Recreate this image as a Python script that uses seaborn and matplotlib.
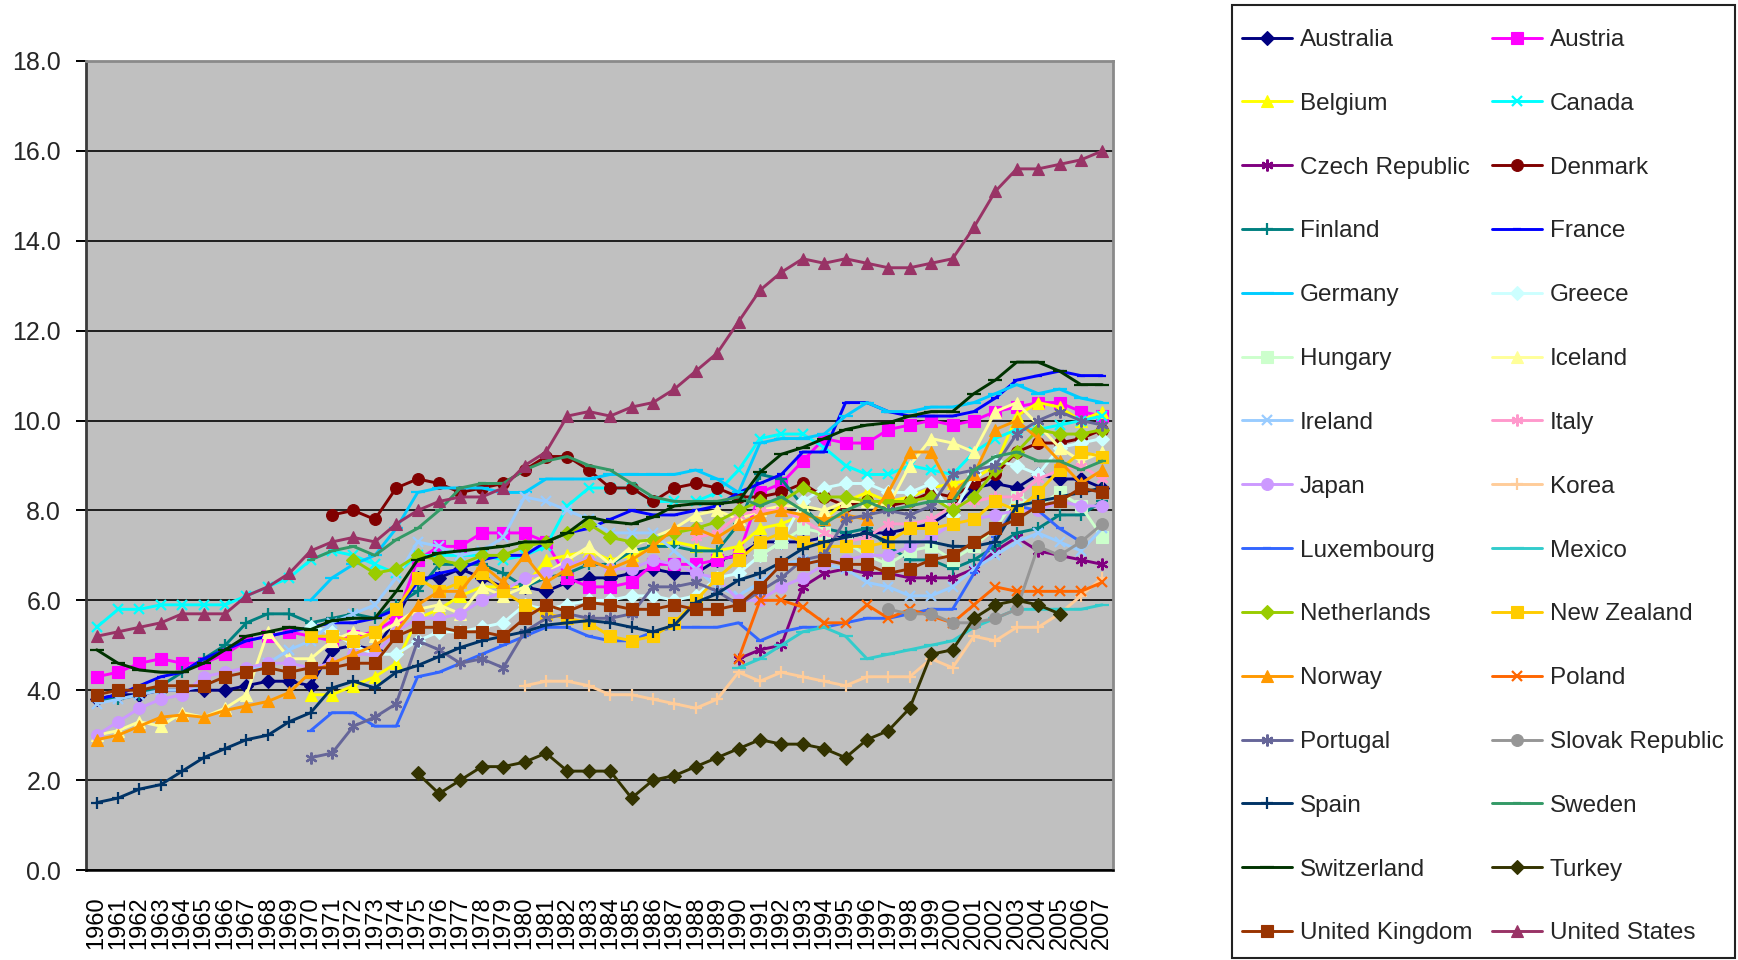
import numpy as np
import pandas as pd
import matplotlib
matplotlib.use("Agg")
import matplotlib.pyplot as plt
from matplotlib.patches import Rectangle
import seaborn as sns

sns.set_theme(style="white")
plt.rcParams["font.family"] = ["Liberation Sans", "DejaVu Sans"]

years = list(range(1960, 2008))
NaN = np.nan


def pad(start, vals):
    return [NaN] * (start - 1960) + list(vals) + [NaN] * (2008 - start - len(vals))


australia = pad(1960, [3.8, 3.9, 3.9, 4.0, 4.0, 4.0, 4.0, 4.1, 4.2, 4.2,
                       4.1, 4.9, 5.0, 4.9, 5.6, 6.5, 6.5, 6.7, 6.5, 6.3,
                       6.3, 6.2, 6.4, 6.5, 6.5, 6.6, 6.7, 6.6, 6.6, 6.9,
                       7.0, 7.3, 7.3, 7.3, 7.4, 7.4, 7.5, 7.5, 7.6, 7.7,
                       8.0, 8.5, 8.6, 8.5, 8.8, 8.7, 8.7, 8.5])
austria = pad(1960, [4.3, 4.4, 4.6, 4.7, 4.6, 4.6, 4.8, 5.1, 5.2, 5.3,
                     5.2, 5.1, 5.2, 5.3, 5.6, 6.9, 7.2, 7.2, 7.5, 7.5,
                     7.5, 7.3, 6.5, 6.3, 6.3, 6.4, 6.8, 6.8, 6.8, 6.9,
                     7.0, 8.4, 8.6, 9.1, 9.6, 9.5, 9.5, 9.8, 9.9, 10.0,
                     9.9, 10.0, 10.2, 10.3, 10.4, 10.4, 10.2, 10.1])
belgium = pad(1970, [3.9, 3.9, 4.1, 4.3, 4.6, 5.6, 5.8, 6.1, 6.3, 6.3,
                     6.3, 6.9, 7.0, 7.1, 6.9, 7.0, 7.2, 7.3, 7.2, 7.1,
                     7.2, 7.6, 7.7, 7.9, 7.8, 8.2, 8.4, 8.2, 8.3, 8.5,
                     8.6, 8.7, 9.0, 10.1, 10.4, 10.3, 10.0, 10.2])
canada = pad(1960, [5.4, 5.8, 5.8, 5.9, 5.9, 5.9, 5.9, 6.1, 6.3, 6.5,
                    6.9, 7.1, 7.0, 6.8, 6.6, 7.0, 7.0, 7.0, 7.0, 6.9,
                    7.0, 7.2, 8.1, 8.5, 8.5, 8.5, 8.2, 8.2, 8.2, 8.4,
                    8.9, 9.6, 9.7, 9.7, 9.4, 9.0, 8.8, 8.8, 9.0, 8.9,
                    8.8, 9.3, 9.6, 9.8, 9.8, 9.9, 10.0, 10.1])
czech = pad(1990, [4.7, 4.9, 5.0, 6.3, 6.6, 6.7, 6.6, 6.6, 6.5, 6.5,
                   6.5, 6.7, 7.1, 7.4, 7.1, 7.0, 6.9, 6.8])
denmark = pad(1971, [7.9, 8.0, 7.8, 8.5, 8.7, 8.6, 8.4, 8.5, 8.6,
                     8.9, 9.2, 9.2, 8.9, 8.5, 8.5, 8.2, 8.5, 8.6, 8.5,
                     8.3, 8.3, 8.4, 8.6, 8.3, 8.1, 8.2, 8.1, 8.2, 8.4,
                     8.3, 8.6, 8.8, 9.3, 9.5, 9.5, 9.6, 9.8])
finland = pad(1960, [3.8, 3.8, 3.9, 4.1, 4.4, 4.7, 5.0, 5.5, 5.7, 5.7,
                     5.5, 5.6, 5.7, 5.6, 5.9, 6.2, 6.8, 6.8, 6.8, 6.6,
                     6.3, 6.5, 6.6, 6.8, 6.8, 7.1, 7.2, 7.2, 7.1, 7.1,
                     7.7, 8.8, 8.7, 8.1, 7.6, 7.5, 7.6, 7.2, 6.9, 6.9,
                     6.7, 6.9, 7.2, 7.5, 7.6, 7.9, 7.9, 8.2])
france = pad(1960, [3.8, 3.9, 4.1, 4.3, 4.4, 4.7, 4.9, 5.1, 5.2, 5.3,
                    5.4, 5.5, 5.5, 5.6, 5.8, 6.4, 6.6, 6.7, 6.9, 7.0,
                    7.0, 7.3, 7.5, 7.6, 7.8, 8.0, 7.9, 7.9, 8.0, 8.1,
                    8.4, 8.6, 8.8, 9.3, 9.3, 10.4, 10.4, 10.2, 10.1, 10.1,
                    10.1, 10.2, 10.5, 10.9, 11.0, 11.1, 11.0, 11.0])
germany = pad(1970, [6.0, 6.5, 6.8, 7.0, 7.6, 8.4, 8.5, 8.5, 8.5, 8.4,
                     8.4, 8.7, 8.7, 8.7, 8.8, 8.8, 8.8, 8.8, 8.9, 8.7,
                     8.4, 9.5, 9.6, 9.6, 9.7, 10.1, 10.4, 10.2, 10.2, 10.3,
                     10.3, 10.4, 10.6, 10.8, 10.6, 10.7, 10.5, 10.4])
greece = pad(1970, [5.4, 5.3, 5.0, 4.8, 4.8, 5.1, 5.3, 5.3, 5.4, 5.5,
                    5.9, 5.8, 5.9, 6.0, 6.0, 6.1, 6.1, 6.0, 6.1, 6.5,
                    6.6, 7.0, 7.3, 8.2, 8.5, 8.6, 8.6, 8.4, 8.4, 8.6,
                    7.9, 8.8, 9.1, 9.0, 8.8, 9.4, 9.5, 9.6])
hungary = pad(1991, [7.0, 7.3, 7.6, 7.5, 7.3, 7.0, 6.8, 7.1, 7.2, 6.9,
                     7.2, 7.6, 8.3, 8.1, 8.4, 8.1, 7.4])
iceland = pad(1960, [3.0, 3.1, 3.3, 3.2, 3.5, 3.4, 3.6, 3.9, 5.3, 4.7,
                     4.7, 5.1, 5.3, 5.2, 5.5, 5.8, 5.9, 5.7, 6.3, 6.1,
                     6.3, 6.6, 6.9, 7.2, 6.8, 7.2, 7.4, 7.6, 7.9, 8.0,
                     7.8, 8.0, 8.1, 8.1, 8.0, 8.2, 8.2, 8.1, 9.0, 9.6,
                     9.5, 9.3, 10.2, 10.4, 9.9, 9.4, 9.1, 9.3])
ireland = pad(1960, [3.7, 3.8, 3.9, 4.0, 4.0, 4.1, 4.3, 4.4, 4.6, 4.9,
                     5.1, 5.5, 5.7, 5.9, 6.5, 7.3, 7.2, 7.0, 7.1, 7.4,
                     8.3, 8.2, 8.0, 7.8, 7.5, 7.5, 7.5, 7.1, 6.7, 6.3,
                     6.1, 6.4, 6.8, 6.9, 6.8, 6.7, 6.4, 6.3, 6.1, 6.1,
                     6.3, 6.7, 7.0, 7.3, 7.5, 7.3, 7.1, 7.6])
italy = pad(1988, [7.4, 7.5, 7.9, 8.0, 8.0, 7.8, 7.5, 7.3, 7.4, 7.7,
                   7.7, 7.8, 8.1, 8.2, 8.3, 8.3, 8.7, 8.9, 9.0, 8.7])
japan = pad(1960, [3.0, 3.3, 3.6, 3.8, 3.9, 4.3, 4.4, 4.5, 4.6, 4.6,
                   4.5, 4.6, 4.8, 4.8, 5.3, 5.6, 5.6, 5.7, 6.0, 6.2,
                   6.5, 6.6, 6.8, 6.9, 6.7, 6.7, 6.9, 6.8, 6.6, 6.5,
                   6.0, 6.0, 6.3, 6.5, 6.8, 6.9, 7.0, 7.0, 7.2, 7.4,
                   7.7, 7.8, 7.9, 8.0, 8.0, 8.2, 8.1, 8.1])
korea = pad(1980, [4.1, 4.2, 4.2, 4.1, 3.9, 3.9, 3.8, 3.7, 3.6, 3.8,
                   4.4, 4.2, 4.4, 4.3, 4.2, 4.1, 4.3, 4.3, 4.3, 4.7,
                   4.5, 5.2, 5.1, 5.4, 5.4, 5.7, 6.1, 6.5])
luxembourg = pad(1970, [3.1, 3.5, 3.5, 3.2, 3.2, 4.3, 4.4, 4.6, 4.8, 5.0,
                        5.2, 5.4, 5.4, 5.2, 5.1, 5.1, 5.3, 5.4, 5.4, 5.4,
                        5.5, 5.1, 5.3, 5.4, 5.4, 5.5, 5.6, 5.6, 5.7, 5.8,
                        5.8, 6.6, 7.4, 8.1, 8.0, 7.6, 7.3])
mexico = pad(1990, [4.5, 4.7, 5.0, 5.3, 5.4, 5.2, 4.7, 4.8, 4.9, 5.0,
                    5.1, 5.4, 5.6, 5.8, 5.8, 5.8, 5.8, 5.9])
netherlands = pad(1972, [6.9, 6.6, 6.7, 7.0, 6.9, 6.8, 7.0, 7.0,
                         7.2, 7.3, 7.5, 7.7, 7.4, 7.3, 7.35, 7.5, 7.6, 7.75,
                         8.0, 8.2, 8.2, 8.5, 8.3, 8.3, 8.2, 8.2, 8.2, 8.3,
                         8.0, 8.3, 8.9, 9.3, 9.8, 9.7, 9.7, 9.8])
new_zealand = pad(1970, [5.2, 5.2, 5.1, 5.3, 5.8, 6.5, 6.2, 6.4, 6.6, 6.2,
                         5.9, 5.7, 5.6, 5.5, 5.2, 5.1, 5.2, 5.5, 6.0, 6.5,
                         6.9, 7.3, 7.5, 7.3, 7.2, 7.2, 7.2, 7.3, 7.6, 7.6,
                         7.7, 7.8, 8.2, 8.0, 8.4, 8.9, 9.3, 9.2])
norway = pad(1960, [2.9, 3.0, 3.2, 3.4, 3.45, 3.4, 3.55, 3.65, 3.75, 3.95,
                    4.4, 4.6, 4.8, 5.0, 5.3, 5.9, 6.2, 6.2, 6.8, 6.4,
                    7.0, 6.4, 6.7, 6.9, 6.7, 6.9, 7.2, 7.6, 7.6, 7.4,
                    7.7, 7.9, 8.0, 7.9, 7.8, 7.9, 7.8, 8.4, 9.3, 9.3,
                    8.4, 8.8, 9.8, 10.0, 9.6, 9.1, 8.6, 8.9])
poland = pad(1990, [4.7, 6.0, 6.0, 5.85, 5.5, 5.5, 5.9, 5.6, 5.8, 5.65,
                    5.5, 5.9, 6.3, 6.2, 6.2, 6.2, 6.2, 6.4])
portugal = pad(1970, [2.5, 2.6, 3.2, 3.4, 3.7, 5.1, 4.9, 4.6, 4.7, 4.5,
                      5.3, 5.6, 5.7, 5.6, 5.6, 5.7, 6.3, 6.3, 6.4, 6.2,
                      5.9, 6.2, 6.5, 6.9, 7.0, 7.8, 7.9, 8.0, 7.9, 8.1,
                      8.8, 8.9, 9.0, 9.7, 10.0, 10.2, 10.0, 9.9])
slovakia = pad(1997, [5.8, 5.7, 5.7, 5.5, 5.5, 5.6, 5.8, 7.2, 7.0, 7.3, 7.7])
spain = pad(1960, [1.5, 1.6, 1.8, 1.9, 2.2, 2.5, 2.7, 2.9, 3.0, 3.3,
                   3.5, 4.05, 4.2, 4.05, 4.4, 4.55, 4.75, 4.95, 5.1, 5.2,
                   5.3, 5.45, 5.5, 5.55, 5.5, 5.4, 5.3, 5.45, 5.95, 6.15,
                   6.45, 6.6, 6.85, 7.15, 7.3, 7.4, 7.5, 7.3, 7.3, 7.3,
                   7.2, 7.2, 7.3, 8.1, 8.2, 8.3, 8.4, 8.5])
sweden = pad(1970, [6.9, 7.1, 7.2, 7.0, 7.35, 7.6, 8.0, 8.5, 8.6, 8.6,
                    8.9, 9.1, 9.2, 9.0, 8.9, 8.6, 8.3, 8.2, 8.2, 8.2,
                    8.3, 8.1, 8.3, 8.0, 7.7, 8.0, 8.2, 8.0, 8.1, 8.2,
                    8.2, 8.9, 9.2, 9.3, 9.1, 9.1, 8.9, 9.1])
switzerland = pad(1960, [4.9, 4.6, 4.45, 4.4, 4.4, 4.6, 4.9, 5.2, 5.3, 5.4,
                         5.35, 5.55, 5.6, 5.6, 6.2, 6.9, 7.05, 7.1, 7.15, 7.2,
                         7.3, 7.3, 7.5, 7.85, 7.75, 7.7, 7.85, 8.1, 8.15, 8.15,
                         8.2, 8.85, 9.25, 9.4, 9.6, 9.8, 9.9, 9.95, 10.1, 10.2,
                         10.2, 10.6, 10.9, 11.3, 11.3, 11.1, 10.8, 10.8])
turkey = pad(1975, [2.15, 1.7, 2.0, 2.3, 2.3,
                    2.4, 2.6, 2.2, 2.2, 2.2, 1.6, 2.0, 2.1, 2.3, 2.5,
                    2.7, 2.9, 2.8, 2.8, 2.7, 2.5, 2.9, 3.1, 3.6, 4.8,
                    4.9, 5.6, 5.9, 6.0, 5.9, 5.7])
united_kingdom = pad(1960, [3.9, 4.0, 4.0, 4.1, 4.1, 4.1, 4.3, 4.4, 4.5, 4.4,
                            4.5, 4.5, 4.6, 4.6, 5.2, 5.4, 5.4, 5.3, 5.3, 5.2,
                            5.6, 5.9, 5.75, 5.95, 5.9, 5.8, 5.8, 5.9, 5.8, 5.8,
                            5.9, 6.3, 6.8, 6.8, 6.9, 6.8, 6.8, 6.6, 6.7, 6.9,
                            7.0, 7.3, 7.6, 7.8, 8.1, 8.2, 8.5, 8.4])
united_states = pad(1960, [5.2, 5.3, 5.4, 5.5, 5.7, 5.7, 5.7, 6.1, 6.3, 6.6,
                           7.1, 7.3, 7.4, 7.3, 7.7, 8.0, 8.2, 8.3, 8.3, 8.5,
                           9.0, 9.3, 10.1, 10.2, 10.1, 10.3, 10.4, 10.7, 11.1, 11.5,
                           12.2, 12.9, 13.3, 13.6, 13.5, 13.6, 13.5, 13.4, 13.4, 13.5,
                           13.6, 14.3, 15.1, 15.6, 15.6, 15.7, 15.8, 16.0])

countries = ["Australia", "Austria", "Belgium", "Canada", "Czech Republic",
             "Denmark", "Finland", "France", "Germany", "Greece", "Hungary",
             "Iceland", "Ireland", "Italy", "Japan", "Korea", "Luxembourg",
             "Mexico", "Netherlands", "New Zealand", "Norway", "Poland",
             "Portugal", "Slovak Republic", "Spain", "Sweden", "Switzerland",
             "Turkey", "United Kingdom", "United States"]
values = [australia, austria, belgium, canada, czech, denmark, finland, france,
          germany, greece, hungary, iceland, ireland, italy, japan, korea,
          luxembourg, mexico, netherlands, new_zealand, norway, poland,
          portugal, slovakia, spain, sweden, switzerland, turkey,
          united_kingdom, united_states]

colors = ["#000080", "#FF00FF", "#FFFF00", "#00FFFF", "#800080", "#800000",
          "#008080", "#0000FF", "#00CCFF", "#CCFFFF", "#CCFFCC", "#FFFF99",
          "#99CCFF", "#FF99CC", "#CC99FF", "#FFCC99", "#3366FF", "#33CCCC",
          "#99CC00", "#FFCC00", "#FF9900", "#FF6600", "#666699", "#969696",
          "#003366", "#339966", "#003300", "#333300", "#993300", "#993366"]

ASTER = (6, 2, 0)
marker_cycle = ["D", "s", "^", "x", ASTER, "o", "+", "_", "_L"]
marker_size = {"D": 7, "s": 8.5, "^": 9, "x": 7, "o": 8.5, "+": 9, "_": 6, "_L": 10}

fig = plt.figure(figsize=(17.38, 9.6), dpi=100)
ax = fig.add_axes([86 / 1738, 1 - 870 / 960, (1113 - 86) / 1738, (870 - 61) / 960])
ax.set_facecolor("#C0C0C0")

for i, (name, vals, col) in enumerate(zip(countries, values, colors)):
    mk = marker_cycle[i % 9]
    key = mk if isinstance(mk, str) else "*"
    ms = marker_size.get(key, 8.5)
    real_mk = "_" if mk == "_L" else mk
    line_art = real_mk in ("x", "+", "_") or mk == ASTER
    df = pd.DataFrame({"x": np.arange(len(years)), "y": vals}).dropna()
    sns.lineplot(data=df, x="x", y="y", ax=ax, color=col, linewidth=2.1,
                 marker=real_mk, markersize=ms, markeredgecolor=col,
                 markerfacecolor=col, markeredgewidth=1.6 if line_art else 0.8,
                 label=name, legend=False, estimator=None, sort=False)

if ax.get_legend() is not None:
    ax.get_legend().remove()

ax.set_xlim(-0.5, len(years) - 0.5)
ax.set_ylim(0, 18)
ax.set_xticks(np.arange(len(years)))
ax.set_xticklabels([str(y) for y in years], rotation=90, fontsize=17)
ax.set_xticks(np.arange(-0.5, len(years), 1.0), minor=True)
ax.tick_params(axis="x", which="major", length=0, pad=19, colors="black")
ax.tick_params(axis="x", which="minor", length=6, width=1.4, color="black", direction="out")
yt = np.arange(0, 18.1, 2)
ax.set_yticks(yt)
ax.set_yticklabels([f"{v:.1f}" for v in yt], fontsize=18)
ax.tick_params(axis="y", which="major", length=7, width=1.4, color="black",
               direction="out", pad=11, left=True)
ax.set_xlabel("")
ax.set_ylabel("")
ax.yaxis.grid(True, color="#111111", linewidth=1.3)
ax.xaxis.grid(False)
ax.set_axisbelow(True)
for s in ["top", "right"]:
    ax.spines[s].set_color("#8a8a8a")
    ax.spines[s].set_linewidth(2)
ax.spines["left"].set_color("#3a3a3a")
ax.spines["left"].set_linewidth(2)
ax.spines["bottom"].set_color("#000000")
ax.spines["bottom"].set_linewidth(1.8)

# legend frame (box reaches the bottom edge of the figure as in the reference)
fig.patches.append(Rectangle((1232 / 1738, 1 - 958 / 960), 503 / 1738, 953 / 960,
                             transform=fig.transFigure, fill=False,
                             edgecolor="#222222", linewidth=1.5, zorder=5))

handles, labels = ax.get_legend_handles_labels()
order = list(range(0, 30, 2)) + list(range(1, 30, 2))
leg = fig.legend([handles[k] for k in order], [labels[k] for k in order],
                 loc="upper left", bbox_to_anchor=(1242 / 1738, 1 - 29 / 960),
                 ncol=2, frameon=False, fontsize=17.5, handlelength=2.05,
                 handletextpad=0.33, columnspacing=0.8, labelspacing=1.72,
                 borderpad=0, borderaxespad=0)

fig.savefig("out.png", dpi=100, facecolor="white")
